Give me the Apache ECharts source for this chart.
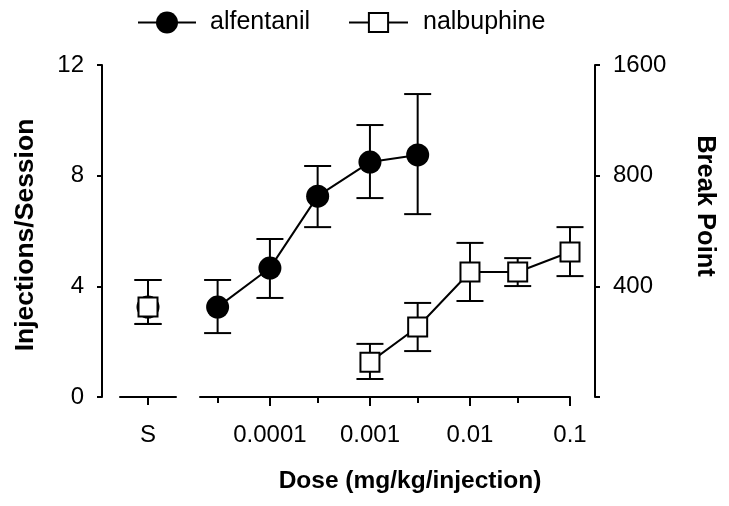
<!DOCTYPE html>
<html><head><meta charset="utf-8">
<script src="https://cdn.jsdelivr.net/npm/echarts@6/dist/echarts.min.js"></script>
<style>html,body{margin:0;padding:0;background:#fff}#c{width:729px;height:506px}</style>
</head><body><div id="c"></div>
<script>
const FONT = "'Liberation Sans', Arial, Helvetica, sans-serif";

// ---- data ----
const salineCategory = ['S'];
const alfSaline = [3.25, 2.64, 4.23];      // mean, low, high
const nalSaline = [3.25, 2.64, 4.23];
const alfDoses = [0.00003, 0.0001, 0.0003, 0.001, 0.003];
const alfMean  = [3.25, 4.66, 7.26, 8.49, 8.75];
const alfLow   = [2.31, 3.58, 6.14, 7.19, 6.61];
const alfHigh  = [4.23, 5.71, 8.35, 9.83, 10.95];
const nalDoses = [0.001, 0.003, 0.01, 0.03, 0.1];
const nalMean  = [1.26, 2.53, 4.52, 4.52, 5.24];
const nalLow   = [0.65, 1.66, 3.47, 4.01, 4.37];
const nalHigh  = [1.92, 3.40, 5.57, 5.02, 6.14];
const xMajorTicks  = [0.0001, 0.001, 0.01, 0.1];
const xMajorLabels = ['0.0001', '0.001', '0.01', '0.1'];
const xMinorTicks  = [0.00003, 0.0003, 0.003, 0.03];
const xRange = [0.00002, 0.1];
const yLeftRange = [0, 12];
const yLeftInterval = 4;
const rightTicks  = [200, 400, 800, 1600];
const rightLabels = ['', '400', '800', '1600'];

// ---- build ----
const lg = Math.log10, lg2 = Math.log2;
function nearestLabel(v, ticks, labels, f) {
  let best = 0, d = Infinity;
  ticks.forEach((t, i) => { const dd = Math.abs(f(t) - v); if (dd < d) { d = dd; best = i; } });
  return labels[best];
}
const black = '#000';
const axisLineStyle = { show: true, lineStyle: { color: black, width: 2 } };
const tickStyle = { color: black, width: 2 };
const labelBase = { color: black, fontSize: 24, fontFamily: FONT };
const titleBase = { color: black, fontWeight: 'bold', fontFamily: FONT };

function renderErr(params, api) {
  const x = api.value(0), lo = api.value(1), hi = api.value(2);
  const a = api.coord([x, lo]), b = api.coord([x, hi]);
  const hw = 13.5;
  const style = { stroke: black, lineWidth: 2, fill: null };
  return { type: 'group', children: [
    { type: 'line', shape: { x1: a[0], y1: a[1], x2: b[0], y2: b[1] }, style },
    { type: 'line', shape: { x1: a[0] - hw, y1: a[1], x2: a[0] + hw, y2: a[1] }, style },
    { type: 'line', shape: { x1: b[0] - hw, y1: b[1], x2: b[0] + hw, y2: b[1] }, style }
  ]};
}

const alfPts = alfDoses.map((d, i) => [lg(d), alfMean[i]]);
const nalPts = nalDoses.map((d, i) => [lg(d), nalMean[i]]);
const errDose = alfDoses.map((d, i) => [lg(d), alfLow[i], alfHigh[i]])
  .concat(nalDoses.map((d, i) => [lg(d), nalLow[i], nalHigh[i]]));
const errSaline = [[0, alfSaline[1], alfSaline[2]], [0, nalSaline[1], nalSaline[2]]];

const option = {
  animation: false,
  backgroundColor: '#fff',
  legend: [
    { data: ['alfentanil'], left: 137, top: 10, padding: 0, itemWidth: 58, itemHeight: 27.5,
      textStyle: { color: black, fontSize: 25, fontFamily: FONT, padding: [0, 0, 0, 9] } },
    { data: ['nalbuphine'], left: 348, top: 10, padding: 0, itemWidth: 59, itemHeight: 24,
      textStyle: { color: black, fontSize: 25, fontFamily: FONT, padding: [0, 0, 0, 10] } }
  ],
  grid: [
    { left: 120, top: 65, width: 56, height: 332 },
    { left: 200, top: 65, width: 370, height: 332 }
  ],
  xAxis: [
    { gridIndex: 0, type: 'category', data: salineCategory, position: 'bottom', boundaryGap: true,
      axisLine: axisLineStyle, axisTick: { show: true, alignWithLabel: true, length: 8, lineStyle: tickStyle },
      axisLabel: Object.assign({ margin: 26 }, labelBase), splitLine: { show: false } },
    { gridIndex: 1, type: 'value', min: lg(xRange[0]), max: lg(xRange[1]), position: 'bottom',
      axisLine: axisLineStyle,
      axisTick: { show: true, length: 9, lineStyle: tickStyle, customValues: xMajorTicks.map(lg) },
      axisLabel: Object.assign({ margin: 26, customValues: xMajorTicks.map(lg),
        formatter: v => nearestLabel(v, xMajorTicks, xMajorLabels, lg) }, labelBase),
      splitLine: { show: false },
      name: 'Dose (mg/kg/injection)', nameLocation: 'middle', nameGap: 72,
      nameTextStyle: Object.assign({ fontSize: 24.5, padding: [0, 0, 0, 50] }, titleBase) },
    { gridIndex: 1, type: 'value', min: lg(xRange[0]), max: lg(xRange[1]), position: 'bottom',
      axisLine: { show: false },
      axisTick: { show: true, length: 6, lineStyle: tickStyle, customValues: xMinorTicks.map(lg) },
      axisLabel: { show: false }, splitLine: { show: false } }
  ],
  yAxis: [
    { gridIndex: 0, type: 'value', min: yLeftRange[0], max: yLeftRange[1], interval: yLeftInterval,
      position: 'left', offset: 18, axisLine: axisLineStyle,
      axisTick: { show: true, length: 5, lineStyle: tickStyle },
      axisLabel: Object.assign({ margin: 18 }, labelBase), splitLine: { show: false },
      name: 'Injections/Session', nameLocation: 'middle', nameGap: 63,
      nameTextStyle: Object.assign({ fontSize: 26.5, padding: [0, 8, 0, 0] }, titleBase) },
    { gridIndex: 1, type: 'value', min: yLeftRange[0], max: yLeftRange[1], interval: yLeftInterval,
      position: 'left', show: false },
    { gridIndex: 1, type: 'value', min: lg2(rightTicks[0]), max: lg2(rightTicks[rightTicks.length - 1]),
      position: 'right', offset: 25, axisLine: axisLineStyle,
      axisTick: { show: true, length: 5, lineStyle: tickStyle, customValues: rightTicks.map(lg2) },
      axisLabel: Object.assign({ margin: 18, customValues: rightTicks.map(lg2),
        formatter: v => nearestLabel(v, rightTicks, rightLabels, lg2) }, labelBase),
      splitLine: { show: false },
      name: 'Break Point', nameLocation: 'middle', nameRotate: -90, nameGap: 97,
      nameTextStyle: Object.assign({ fontSize: 25.5, padding: [0, 50, 0, 0] }, titleBase) }
  ],
  series: [
    { name: 'alfentanil', type: 'line', xAxisIndex: 1, yAxisIndex: 1, data: alfPts, z: 3,
      symbol: 'circle', symbolSize: 23, itemStyle: { color: black, opacity: 1 },
      lineStyle: { color: black, width: 2 } },
    { name: 'nalbuphine', type: 'line', xAxisIndex: 1, yAxisIndex: 1, data: nalPts, z: 4,
      symbol: 'rect', symbolSize: 19, itemStyle: { color: '#fff', borderColor: black, borderWidth: 2, opacity: 1 },
      lineStyle: { color: black, width: 2 } },
    { type: 'custom', xAxisIndex: 1, yAxisIndex: 1, data: errDose, renderItem: renderErr, z: 1,
      encode: { x: 0, y: [1, 2] }, silent: true },
    { type: 'custom', xAxisIndex: 0, yAxisIndex: 0, data: errSaline, renderItem: renderErr, z: 1,
      encode: { x: 0, y: [1, 2] }, silent: true },
    { name: 'alfentanil', type: 'scatter', xAxisIndex: 0, yAxisIndex: 0, data: [[0, alfSaline[0]]], z: 3,
      symbol: 'circle', symbolSize: 23, itemStyle: { color: black, opacity: 1 } },
    { name: 'nalbuphine', type: 'scatter', xAxisIndex: 0, yAxisIndex: 0, data: [[0, nalSaline[0]]], z: 4,
      symbol: 'rect', symbolSize: 19, itemStyle: { color: '#fff', borderColor: black, borderWidth: 2, opacity: 1 } }
  ]
};
const chart = echarts.init(document.getElementById('c'), null, { renderer: 'canvas' });
chart.setOption(option);
</script></body></html>
